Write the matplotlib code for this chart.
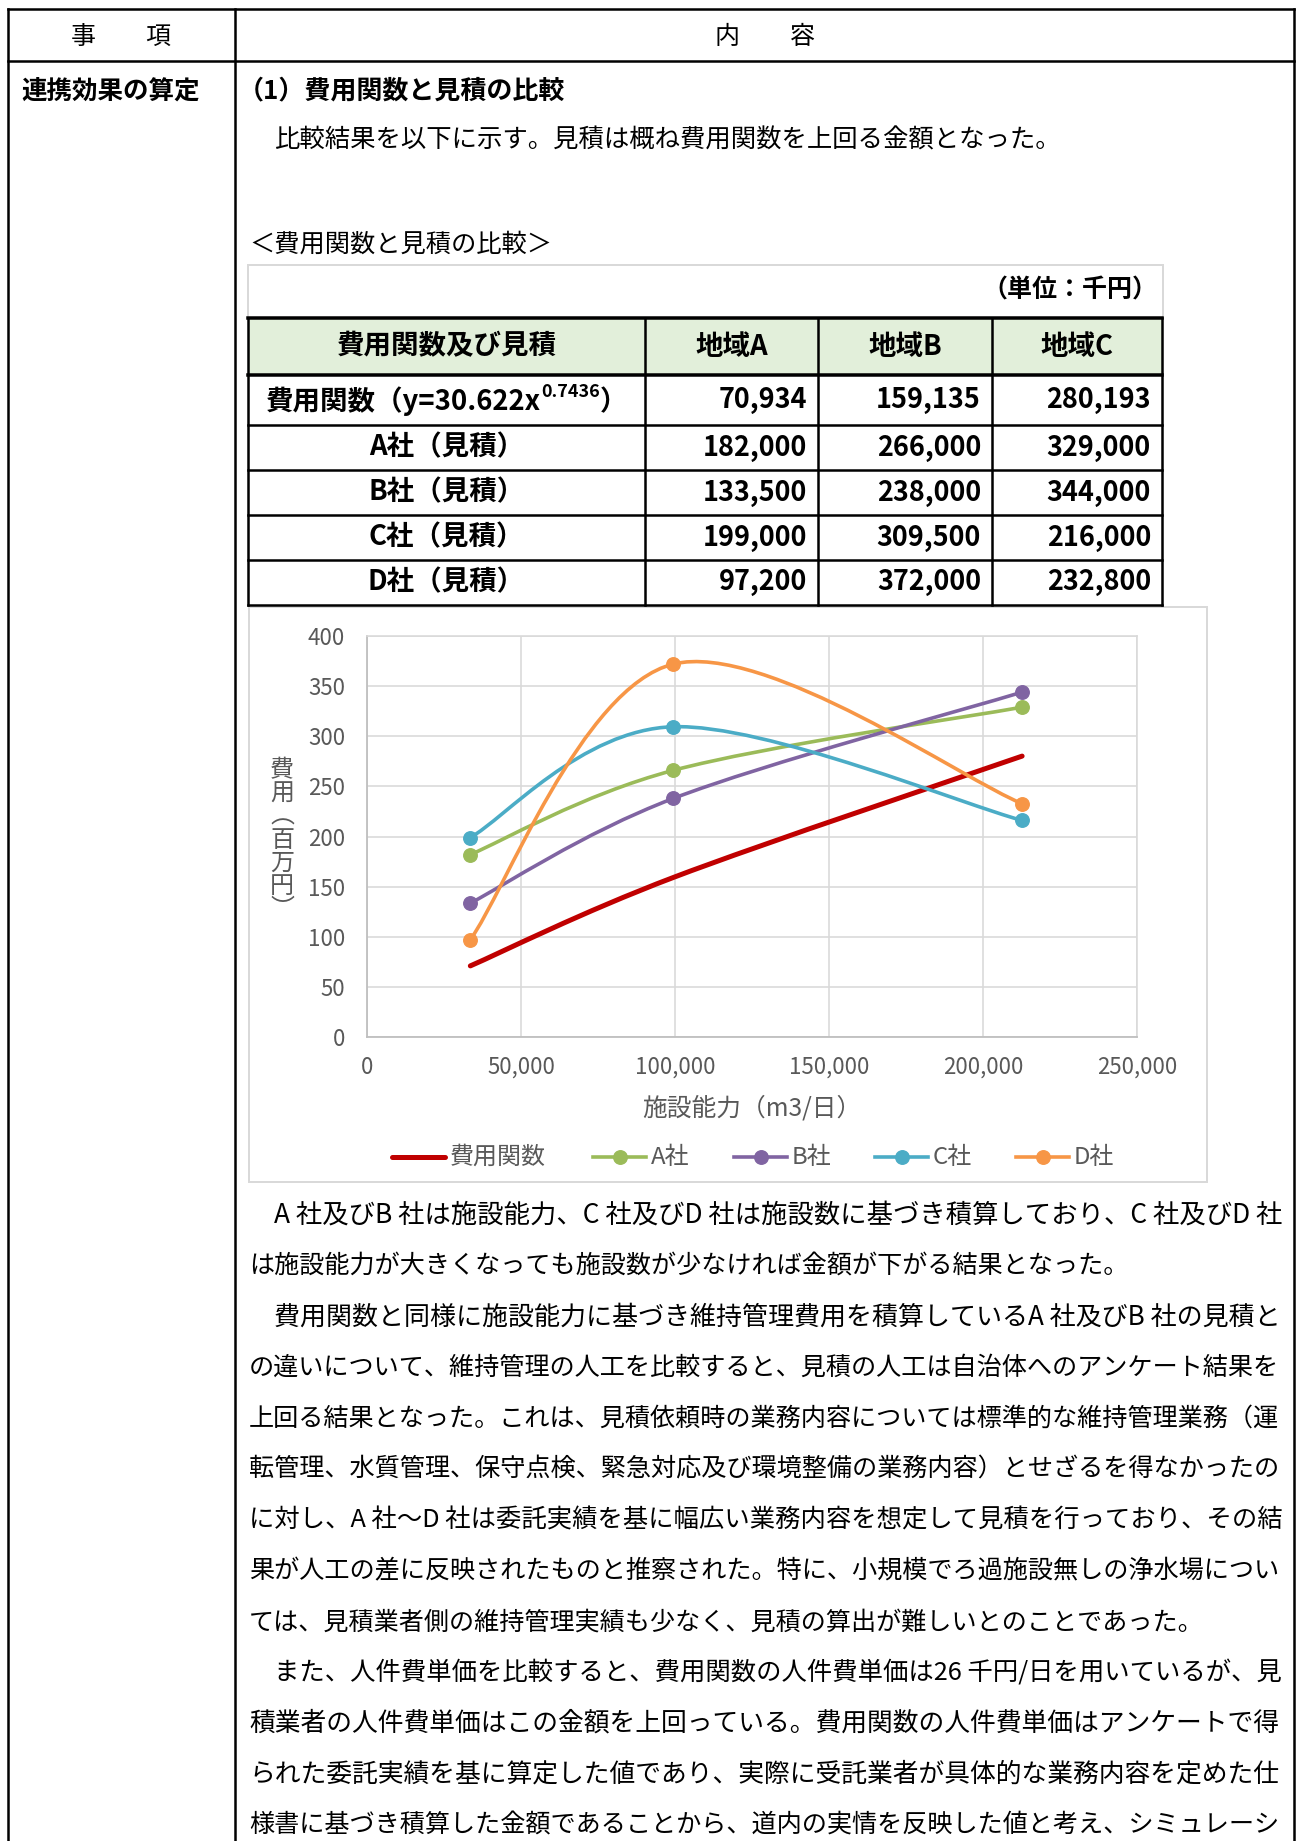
import numpy as np
import matplotlib
matplotlib.use("Agg")
import matplotlib.pyplot as plt
from matplotlib.path import Path
from matplotlib.patches import PathPatch, Rectangle
from matplotlib.ticker import FuncFormatter

plt.rcParams['font.family'] = ['Noto Sans CJK JP', 'DejaVu Sans']

# ---------------- data ----------------
regions = ["地域A", "地域B", "地域C"]
capacity = [33550, 99460, 212700]            # 施設能力 (m3/日)
cost_function = [70934, 159135, 280193]      # 千円
estimate_a = [182000, 266000, 329000]
estimate_b = [133500, 238000, 344000]
estimate_c = [199000, 309500, 216000]
estimate_d = [97200, 372000, 232800]

series_names = ["費用関数", "A社", "B社", "C社", "D社"]
series_values = [cost_function, estimate_a, estimate_b, estimate_c, estimate_d]
series_colors = ["#C00000", "#9BBB59", "#8064A2", "#4BACC6", "#F79646"]
row_labels = [None, "A社（見積）", "B社（見積）", "C社（見積）", "D社（見積）"]

x_ticks = [0, 50000, 100000, 150000, 200000, 250000]
y_ticks = [0, 50, 100, 150, 200, 250, 300, 350, 400]

body_lines = [
    "A 社及びB 社は施設能力、C 社及びD 社は施設数に基づき積算しており、C 社及びD 社",
    "は施設能力が大きくなっても施設数が少なければ金額が下がる結果となった。",
    "費用関数と同様に施設能力に基づき維持管理費用を積算しているA 社及びB 社の見積と",
    "の違いについて、維持管理の人工を比較すると、見積の人工は自治体へのアンケート結果を",
    "上回る結果となった。これは、見積依頼時の業務内容については標準的な維持管理業務（運",
    "転管理、水質管理、保守点検、緊急対応及び環境整備の業務内容）とせざるを得なかったの",
    "に対し、A 社～D 社は委託実績を基に幅広い業務内容を想定して見積を行っており、その結",
    "果が人工の差に反映されたものと推察された。特に、小規模でろ過施設無しの浄水場につい",
    "ては、見積業者側の維持管理実績も少なく、見積の算出が難しいとのことであった。",
    "また、人件費単価を比較すると、費用関数の人件費単価は26 千円/日を用いているが、見",
    "積業者の人件費単価はこの金額を上回っている。費用関数の人件費単価はアンケートで得",
    "られた委託実績を基に算定した値であり、実際に受託業者が具体的な業務内容を定めた仕",
    "様書に基づき積算した金額であることから、道内の実情を反映した値と考え、シミュレーシ",
]
body_indent = [True, False, True, False, False, False, False, False, False, True, False, False, False]
body_justify = [True, False, True, True, True, True, True, True, False, True, True, True, True]

# ---------------- page setup ----------------
W, H, DPI = 1300, 1841, 100
fig = plt.figure(figsize=(W / DPI, H / DPI), dpi=DPI)
page = fig.add_axes([0, 0, 1, 1])
page.set_xlim(0, W)
page.set_ylim(H, 0)
page.axis("off")


def pt(p):
    """pixels -> points"""
    return p * 72 / DPI


def hline(y, x0, x1, lw=2.5, color="black"):
    page.plot([x0, x1], [y, y], color=color, lw=pt(lw), solid_capstyle="projecting")


def vline(x, y0, y1, lw=2.5, color="black"):
    page.plot([x, x], [y0, y1], color=color, lw=pt(lw), solid_capstyle="projecting")


# outer frame of the page table
hline(9, 8, 1294)
hline(61, 8, 1294)
vline(8, 9, H + 5)
vline(235, 9, H + 5)
vline(1294, 9, H + 5)

page.text(121, 37, "事　　項", fontsize=pt(25), ha="center", va="center")
page.text(765, 37, "内　　容", fontsize=pt(25), ha="center", va="center")
page.text(21, 91, "連携効果の算定", fontsize=pt(25.5), ha="left", va="center", fontweight="bold")
page.text(238, 91, "（1）費用関数と見積の比較", fontsize=pt(26), ha="left", va="center", fontweight="bold")
page.text(274, 141, "比較結果を以下に示す。見積は概ね費用関数を上回る金額となった。",
          fontsize=pt(25.4), ha="left", va="center")
page.text(249, 245, "＜費用関数と見積の比較＞", fontsize=pt(25.3), ha="left", va="center")

# ---------------- comparison table ----------------
col_edges = [248, 645, 818, 992, 1162]
row_edges = [318, 375, 425, 470, 515, 560, 605]
grey = "#D9D9D9"

# light frame around the unit caption
vline(248, 265, 318, lw=2, color=grey)
hline(265, 248, 1163, lw=2, color=grey)
vline(1163, 265, 318, lw=2, color=grey)
page.text(1157, 290, "（単位：千円）", fontsize=pt(25), ha="right", va="center", fontweight="bold")

page.add_patch(Rectangle((col_edges[0], row_edges[0]), col_edges[-1] - col_edges[0],
                         row_edges[1] - row_edges[0], facecolor="#E2EFDA", edgecolor="none"))
for i, y in enumerate(row_edges):
    hline(y, col_edges[0], col_edges[-1], lw=3.5 if i in (0, 1) else 2.5)
for x in col_edges:
    vline(x, row_edges[0], row_edges[-1], lw=2.5)

tfs = pt(27.5)
nfs = pt(27)
head_y = (row_edges[0] + row_edges[1]) / 2
page.text((col_edges[0] + col_edges[1]) / 2, head_y, "費用関数及び見積", fontsize=tfs,
          ha="center", va="center", fontweight="bold")
for j, reg in enumerate(regions):
    page.text((col_edges[j + 1] + col_edges[j + 2]) / 2, head_y, reg, fontsize=tfs,
              ha="center", va="center", fontweight="bold")

for i, vals in enumerate(series_values):
    yc = (row_edges[i + 1] + row_edges[i + 2]) / 2
    if row_labels[i] is not None:
        page.text((col_edges[0] + col_edges[1]) / 2, yc, row_labels[i], fontsize=tfs,
                  ha="center", va="center", fontweight="bold")
    for j, v in enumerate(vals):
        page.text(col_edges[j + 2] - 11, yc, f"{v:,}", fontsize=nfs,
                  ha="right", va="center", fontweight="bold")

# cost-function label with superscript exponent
fy = (row_edges[1] + row_edges[2]) / 2 + 10
lab_main = page.text(0, fy, "費用関数（y=30.622x", fontsize=tfs, ha="left", va="baseline", fontweight="bold")
lab_sup = page.text(0, fy - 13, "0.7436", fontsize=pt(18), ha="left", va="baseline", fontweight="bold")
lab_end = page.text(0, fy, "）", fontsize=tfs, ha="left", va="baseline", fontweight="bold")

# ---------------- chart ----------------
page.add_patch(Rectangle((249, 607), 1207 - 249, 1182 - 607, facecolor="white",
                         edgecolor=grey, lw=pt(2)))

ax_l, ax_r, ax_t, ax_b = 367, 1137, 636, 1037
ax = fig.add_axes([ax_l / W, 1 - ax_b / H, (ax_r - ax_l) / W, (ax_b - ax_t) / H])
ax.set_facecolor("none")
ax.set_xlim(0, 250000)
ax.set_ylim(0, 400)
ax.set_xticks(x_ticks)
ax.set_yticks(y_ticks)
ax.xaxis.set_major_formatter(FuncFormatter(lambda v, p: f"{v:,.0f}"))
ax.grid(True, color=grey, lw=pt(1.6))
ax.set_axisbelow(True)
for s in ["top", "right"]:
    ax.spines[s].set_color(grey)
    ax.spines[s].set_linewidth(pt(1.6))
for s in ["left", "bottom"]:
    ax.spines[s].set_color("#BFBFBF")
    ax.spines[s].set_linewidth(pt(1.8))
ax.tick_params(length=0, labelsize=pt(22.3), labelcolor="#595959")
ax.tick_params(axis="y", pad=pt(22))
ax.tick_params(axis="x", pad=pt(19))


def smooth_path(xs, ys):
    """Cubic Bezier smoothing through the points (Catmull-Rom tangents)."""
    p = np.column_stack([xs, ys]).astype(float)
    e = np.vstack([p[0], p, p[-1]])
    verts, codes = [p[0]], [Path.MOVETO]
    for i in range(len(p) - 1):
        p0, p1, p2, p3 = e[i], e[i + 1], e[i + 2], e[i + 3]
        verts += [p1 + (p2 - p0) / 6, p2 - (p3 - p1) / 6, p2]
        codes += [Path.CURVE4] * 3
    return Path(verts, codes)


for k, (name, vals, col) in enumerate(zip(series_names, series_values, series_colors)):
    yv = np.array(vals) / 1000.0           # 百万円
    lw = pt(5) if k == 0 else pt(3.6)
    ax.add_patch(PathPatch(smooth_path(capacity, yv), facecolor="none", edgecolor=col,
                           lw=lw, capstyle="round", joinstyle="round", zorder=3 + k))
    if k > 0:
        ax.plot(capacity, yv, "o", color=col, ms=pt(13.5), mec=col, zorder=3 + k)

ax.set_xlabel("施設能力（m3/日）", fontsize=pt(24.7), color="#595959", labelpad=pt(16))

# vertical axis title, characters stacked upright
ylab = "費用︵百万円︶"
for i, ch in enumerate(ylab):
    page.text(282, 840 + (i - 3) * 23, ch, fontsize=pt(24), color="#595959",
              ha="center", va="center")

# legend
leg_x = [392, 593, 734, 875, 1016]
leg_y = 1157
for k, (name, col) in enumerate(zip(series_names, series_colors)):
    x0 = leg_x[k]
    x1 = x0 + 53
    if k == 0:
        page.plot([x0, x1], [leg_y, leg_y], color=col, lw=pt(5), solid_capstyle="round")
    else:
        page.plot([x0, x1], [leg_y, leg_y], color=col, lw=pt(3.6))
        page.plot([(x0 + x1) / 2], [leg_y], "o", color=col, ms=pt(13.5))
    page.text(x1 + 5, leg_y, name, fontsize=pt(24), color="#595959", ha="left", va="center")

# ---------------- body text ----------------
body_texts = []
for i, line in enumerate(body_lines):
    x0 = 274 if body_indent[i] else 249
    t = page.text(x0, 1215 + i * 50.9, line, fontsize=pt(25.1), ha="left", va="center")
    body_texts.append((t, x0, body_justify[i]))

# ---------------- final layout adjustments ----------------
fig.canvas.draw()
r = fig.canvas.get_renderer()
for t, x0, just in body_texts:
    if just:
        w = t.get_window_extent(r).width
        t.set_fontsize(t.get_fontsize() * (1282 - x0) / w)

w1 = lab_main.get_window_extent(r).width
w2 = lab_sup.get_window_extent(r).width
w3 = lab_end.get_window_extent(r).width
start = (col_edges[0] + col_edges[1]) / 2 - (w1 + w2 + w3) / 2
lab_main.set_x(start)
lab_sup.set_x(start + w1)
lab_end.set_x(start + w1 + w2)

fig.savefig("out.png", dpi=DPI)
